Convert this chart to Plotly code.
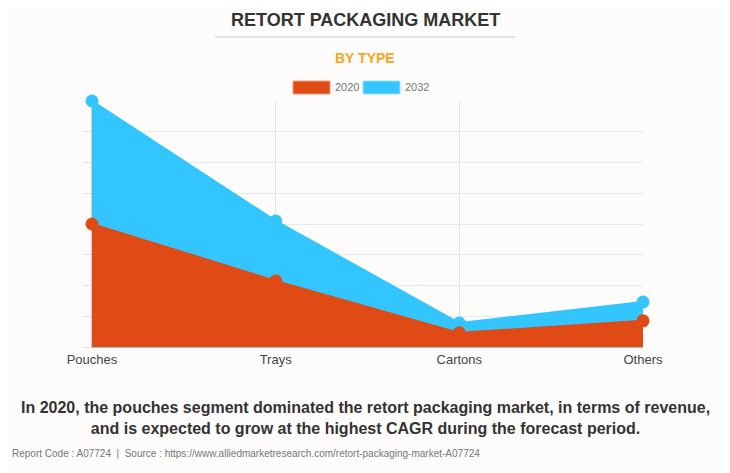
import plotly.graph_objects as go

categories = ["Pouches", "Trays", "Cartons", "Others"]
series_names = ["2020", "2032"]
values_2020 = [4.0, 2.15, 0.46, 0.85]
values_2032 = [8.0, 4.1, 0.78, 1.46]

RED = "#E04A15"
BLUE = "#33C5FD"

OFF = 8  # page body margin offset
W, H = 730 - OFF, 473 - OFF
L, R, T, B = 92 - OFF, 87, 101 - OFF, 126
PW, PH = W - L - R, H - T - B


def px(x):
    return (x - OFF - L) / PW


def py(y):
    return (H - B - (y - OFF)) / PH


fig = go.Figure()
fig.add_trace(go.Scatter(
    x=categories, y=values_2032, name=series_names[1], mode="lines",
    fill="tozeroy", fillcolor=BLUE, line=dict(color=BLUE, width=2), showlegend=False))
fig.add_trace(go.Scatter(
    x=categories, y=values_2020, name=series_names[0], mode="lines",
    fill="tozeroy", fillcolor=RED, line=dict(color=RED, width=2), showlegend=False))
fig.add_trace(go.Scatter(
    x=categories, y=values_2032, mode="markers", marker=dict(size=13, color=BLUE),
    cliponaxis=False, showlegend=False, hoverinfo="skip"))
fig.add_trace(go.Scatter(
    x=categories, y=values_2020, mode="markers", marker=dict(size=13, color=RED),
    cliponaxis=False, showlegend=False, hoverinfo="skip"))

shapes = [
    dict(type="line", xref="paper", yref="paper", x0=px(215), x1=px(515), y0=py(37), y1=py(37),
         line=dict(color="#c8c8c8", width=1)),
    dict(type="rect", xref="paper", yref="paper", x0=px(293), x1=px(330), y0=py(94), y1=py(81),
         fillcolor=RED, line=dict(color="#f0a080", width=1)),
    dict(type="rect", xref="paper", yref="paper", x0=px(363), x1=px(400), y0=py(94), y1=py(81),
         fillcolor=BLUE, line=dict(color="#a0e0ff", width=1)),
]

FONT = "Liberation Sans, Arial"
annotations = [
    dict(text="<b>RETORT PACKAGING MARKET</b>", x=px(365), y=py(20), xref="paper", yref="paper",
         showarrow=False, xanchor="center", yanchor="middle",
         font=dict(family=FONT, size=18, color="#333333")),
    dict(text="<b>BY TYPE</b>", x=px(365), y=py(58), xref="paper", yref="paper",
         showarrow=False, xanchor="center", yanchor="middle",
         font=dict(family=FONT, size=14, color="#F5A623")),
    dict(text=series_names[0], x=px(333), y=py(87), xref="paper", yref="paper",
         showarrow=False, xanchor="left", yanchor="middle",
         font=dict(family=FONT, size=11, color="#777777")),
    dict(text=series_names[1], x=px(403), y=py(87), xref="paper", yref="paper",
         showarrow=False, xanchor="left", yanchor="middle",
         font=dict(family=FONT, size=11, color="#777777")),
    dict(text="<b>In 2020, the pouches segment dominated the retort packaging market, in terms of revenue,<br>and is expected to grow at the highest CAGR during the forecast period.</b>",
         x=px(365), y=py(418), xref="paper", yref="paper", showarrow=False,
         xanchor="center", yanchor="middle",
         font=dict(family=FONT, size=16, color="#333333")),
    dict(text="Report Code : A07724  |  Source : https://www.alliedmarketresearch.com/retort-packaging-market-A07724",
         x=px(10), y=py(453), xref="paper", yref="paper", showarrow=False,
         xanchor="left", yanchor="middle",
         font=dict(family=FONT, size=10, color="#777777")),
]

fig.update_layout(
    width=W, height=H, margin=dict(l=L, r=R, t=T, b=B),
    paper_bgcolor="#fdfcfb", plot_bgcolor="#fdfcfb",
    shapes=shapes, annotations=annotations, showlegend=False,
    xaxis=dict(type="category", range=[0, 3], showgrid=True, gridcolor="#e2e2e2",
               showline=True, linecolor="#bbbbbb", ticks="", layer="below traces",
               tickfont=dict(family=FONT, size=13, color="#444444"),
               zeroline=False, fixedrange=True),
    yaxis=dict(range=[0, 8], dtick=1, showticklabels=False, showgrid=True, gridcolor="#e8e8e8",
               ticks="outside", ticklen=8, tickcolor="#e2e2e2", showline=True, linecolor="#cccccc",
               zeroline=False, layer="below traces"),
)

fig.write_html("out.html")
